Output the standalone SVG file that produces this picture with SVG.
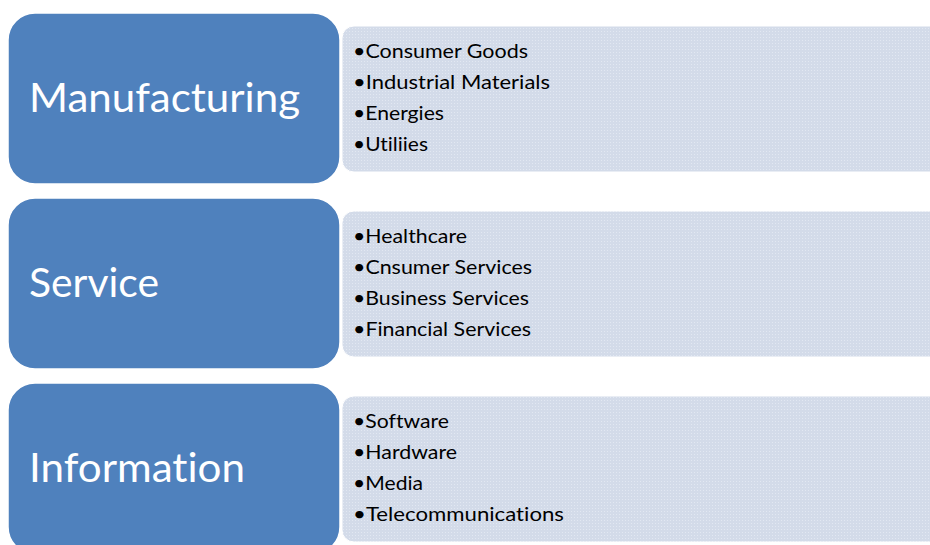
<svg xmlns="http://www.w3.org/2000/svg" width="930" height="545" viewBox="0 0 930 545">
<defs>
<pattern id="dots" width="3" height="3" patternUnits="userSpaceOnUse">
<rect width="3" height="3" fill="#D3DBE9"/>
<rect x="1" y="1" width="1" height="1" fill="#E2E8F2"/>
</pattern>
</defs>
<style>
.cat{fill:#4F81BD;stroke:#FFFFFF;stroke-width:1.5}
.list{fill:url(#dots);stroke:#FFFFFF;stroke-width:1}
.ct{font-family:Lato,"Liberation Sans",sans-serif;font-size:40px;fill:#FFFFFF;font-variant-ligatures:none;font-feature-settings:"liga" 0}
.it{font-family:Lato,"Liberation Sans",sans-serif;font-size:20px;fill:#000000;font-variant-ligatures:none;font-feature-settings:"liga" 0}
</style>
<rect width="930" height="545" fill="#FFFFFF"/>
<g id="connectors"></g>
<g id="manufacturing-list">
<rect class="list" x="342" y="26" width="600" height="146" rx="12"/>
<text class="it" x="353" y="58" textLength="175" lengthAdjust="spacingAndGlyphs">•Consumer Goods</text>
<text class="it" x="353" y="89" textLength="197" lengthAdjust="spacingAndGlyphs">•Industrial Materials</text>
<text class="it" x="353" y="120" textLength="91" lengthAdjust="spacingAndGlyphs">•Energies</text>
<text class="it" x="353" y="151" textLength="75" lengthAdjust="spacingAndGlyphs">•Utiliies</text>
</g>
<g id="manufacturing">
<rect class="cat" x="8" y="13" width="332" height="171" rx="27"/>
<text class="ct" x="29" y="112" textLength="271" lengthAdjust="spacingAndGlyphs">Manufacturing</text>
</g>
<g id="service-list">
<rect class="list" x="342" y="211" width="600" height="146" rx="12"/>
<text class="it" x="353" y="243" textLength="114" lengthAdjust="spacingAndGlyphs">•Healthcare</text>
<text class="it" x="353" y="274" textLength="179" lengthAdjust="spacingAndGlyphs">•Cnsumer Services</text>
<text class="it" x="353" y="305" textLength="176" lengthAdjust="spacingAndGlyphs">•Business Services</text>
<text class="it" x="353" y="336" textLength="178" lengthAdjust="spacingAndGlyphs">•Financial Services</text>
</g>
<g id="service">
<rect class="cat" x="8" y="198" width="332" height="171" rx="27"/>
<text class="ct" x="29" y="297" textLength="130" lengthAdjust="spacingAndGlyphs">Service</text>
</g>
<g id="information-list">
<rect class="list" x="342" y="396" width="600" height="146" rx="12"/>
<text class="it" x="353" y="428" textLength="96" lengthAdjust="spacingAndGlyphs">•Software</text>
<text class="it" x="353" y="459" textLength="104" lengthAdjust="spacingAndGlyphs">•Hardware</text>
<text class="it" x="353" y="490" textLength="70" lengthAdjust="spacingAndGlyphs">•Media</text>
<text class="it" x="353" y="521" textLength="211" lengthAdjust="spacingAndGlyphs">•Telecommunications</text>
</g>
<g id="information">
<rect class="cat" x="8" y="383" width="332" height="171" rx="27"/>
<text class="ct" x="29" y="482" textLength="216" lengthAdjust="spacingAndGlyphs">Information</text>
</g>
</svg>
